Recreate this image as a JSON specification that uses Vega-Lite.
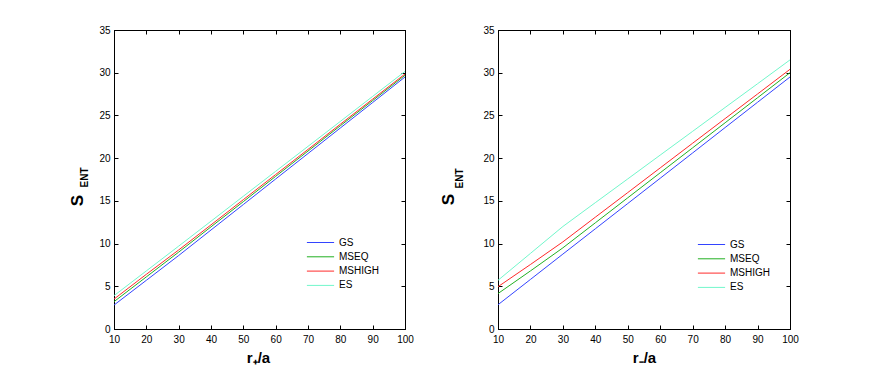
{
  "$schema": "https://vega.github.io/schema/vega-lite/v6.json",
  "background": "white",
  "padding": {"left": 67, "top": 24, "right": 5, "bottom": 5},
  "spacing": 93,
  "bounds": "flush",
  "resolve": {"scale": {"color": "independent"}},
  "config": {
    "font": "Liberation Sans",
    "view": {"stroke": "#000", "strokeWidth": 1},
    "axis": {
      "grid": false,
      "labelFont": "Liberation Sans",
      "labelFontSize": 10,
      "labelColor": "#000",
      "labelFlush": false,
      "tickColor": "#000",
      "domainColor": "#000",
      "tickSize": -4,
      "labelPadding": 8,
      "titleFont": "Liberation Sans",
      "titleColor": "#000"
    },
    "axisBottom": {"labelPadding": 9},
    "legend": {
      "orient": "none",
      "title": null,
      "labelFont": "Liberation Sans",
      "labelFontSize": 10,
      "labelColor": "#000",
      "symbolType": "M-1.7,0H1.7",
      "symbolSize": 256,
      "symbolStrokeWidth": 1,
      "labelOffset": 10,
      "rowPadding": 0.3,
      "padding": 0
    }
  },
  "datasets": {
    "left": [
      {"x": 10, "series": "GS", "y": 2.8}, {"x": 20, "series": "GS", "y": 5.7}, {"x": 30, "series": "GS", "y": 8.6}, {"x": 40, "series": "GS", "y": 11.59}, {"x": 50, "series": "GS", "y": 14.57}, {"x": 60, "series": "GS", "y": 17.56}, {"x": 70, "series": "GS", "y": 20.54}, {"x": 80, "series": "GS", "y": 23.53}, {"x": 90, "series": "GS", "y": 26.51}, {"x": 100, "series": "GS", "y": 29.5},
      {"x": 10, "series": "MSEQ", "y": 3.2}, {"x": 20, "series": "MSEQ", "y": 6.1}, {"x": 30, "series": "MSEQ", "y": 9.0}, {"x": 40, "series": "MSEQ", "y": 11.96}, {"x": 50, "series": "MSEQ", "y": 14.91}, {"x": 60, "series": "MSEQ", "y": 17.87}, {"x": 70, "series": "MSEQ", "y": 20.83}, {"x": 80, "series": "MSEQ", "y": 23.79}, {"x": 90, "series": "MSEQ", "y": 26.74}, {"x": 100, "series": "MSEQ", "y": 29.7},
      {"x": 10, "series": "MSHIGH", "y": 3.5}, {"x": 20, "series": "MSHIGH", "y": 6.4}, {"x": 30, "series": "MSHIGH", "y": 9.25}, {"x": 40, "series": "MSHIGH", "y": 12.19}, {"x": 50, "series": "MSHIGH", "y": 15.14}, {"x": 60, "series": "MSHIGH", "y": 18.08}, {"x": 70, "series": "MSHIGH", "y": 21.02}, {"x": 80, "series": "MSHIGH", "y": 23.97}, {"x": 90, "series": "MSHIGH", "y": 26.91}, {"x": 100, "series": "MSHIGH", "y": 29.85},
      {"x": 10, "series": "ES", "y": 3.9}, {"x": 20, "series": "ES", "y": 6.8}, {"x": 30, "series": "ES", "y": 9.7}, {"x": 40, "series": "ES", "y": 12.62}, {"x": 50, "series": "ES", "y": 15.54}, {"x": 60, "series": "ES", "y": 18.46}, {"x": 70, "series": "ES", "y": 21.38}, {"x": 80, "series": "ES", "y": 24.3}, {"x": 90, "series": "ES", "y": 27.23}, {"x": 100, "series": "ES", "y": 30.15}
    ],
    "right": [
      {"x": 10, "series": "GS", "y": 2.84}, {"x": 20, "series": "GS", "y": 5.8}, {"x": 30, "series": "GS", "y": 8.77}, {"x": 40, "series": "GS", "y": 11.73}, {"x": 50, "series": "GS", "y": 14.69}, {"x": 60, "series": "GS", "y": 17.65}, {"x": 70, "series": "GS", "y": 20.61}, {"x": 80, "series": "GS", "y": 23.58}, {"x": 90, "series": "GS", "y": 26.54}, {"x": 100, "series": "GS", "y": 29.5},
      {"x": 10, "series": "MSEQ", "y": 4.15}, {"x": 20, "series": "MSEQ", "y": 6.8}, {"x": 30, "series": "MSEQ", "y": 9.5}, {"x": 40, "series": "MSEQ", "y": 12.43}, {"x": 50, "series": "MSEQ", "y": 15.36}, {"x": 60, "series": "MSEQ", "y": 18.29}, {"x": 70, "series": "MSEQ", "y": 21.21}, {"x": 80, "series": "MSEQ", "y": 24.14}, {"x": 90, "series": "MSEQ", "y": 27.07}, {"x": 100, "series": "MSEQ", "y": 30.0},
      {"x": 10, "series": "MSHIGH", "y": 4.95}, {"x": 20, "series": "MSHIGH", "y": 7.55}, {"x": 30, "series": "MSHIGH", "y": 10.2}, {"x": 40, "series": "MSHIGH", "y": 13.09}, {"x": 50, "series": "MSHIGH", "y": 15.97}, {"x": 60, "series": "MSHIGH", "y": 18.86}, {"x": 70, "series": "MSHIGH", "y": 21.75}, {"x": 80, "series": "MSHIGH", "y": 24.63}, {"x": 90, "series": "MSHIGH", "y": 27.51}, {"x": 100, "series": "MSHIGH", "y": 30.4},
      {"x": 10, "series": "ES", "y": 5.7}, {"x": 20, "series": "ES", "y": 8.85}, {"x": 30, "series": "ES", "y": 12.0}, {"x": 40, "series": "ES", "y": 14.79}, {"x": 50, "series": "ES", "y": 17.57}, {"x": 60, "series": "ES", "y": 20.36}, {"x": 70, "series": "ES", "y": 23.14}, {"x": 80, "series": "ES", "y": 25.93}, {"x": 90, "series": "ES", "y": 28.71}, {"x": 100, "series": "ES", "y": 31.5}
    ]
  },
  "hconcat": [
    {
      "width": 291,
      "height": 299,
      "data": {"name": "left"},
      "layer": [
        {
          "mark": {"type": "line", "strokeWidth": 1},
          "encoding": {
            "x": {"field": "x", "type": "quantitative", "scale": {"domain": [10, 100], "nice": false},
              "axis": {"orient": "bottom", "values": [10, 20, 30, 40, 50, 60, 70, 80, 90, 100], "title": "r₊/a", "titleFontSize": 15, "titleFontWeight": "bold", "titleX": 144, "titleY": 33, "titleAlign": "center", "titleBaseline": "alphabetic"}},
            "y": {"field": "y", "type": "quantitative", "scale": {"domain": [0, 35], "nice": false},
              "axis": {"orient": "left", "values": [0, 5, 10, 15, 20, 25, 30, 35], "title": "S", "titleFontSize": 17, "titleFontWeight": "bold", "titleAngle": 270, "titleX": -32, "titleY": 170, "titleAlign": "center", "titleBaseline": "alphabetic"}},
            "color": {"field": "series", "type": "nominal",
              "scale": {"domain": ["GS", "MSEQ", "MSHIGH", "ES"], "range": ["#3344ff", "#22b022", "#ff2a2a", "#72f7cb"]},
              "legend": {"legendX": 198, "legendY": 204}}
          }
        },
        {
          "mark": {"type": "line", "opacity": 0},
          "encoding": {
            "x": {"field": "x", "type": "quantitative", "scale": {"domain": [10, 100], "nice": false},
              "axis": {"orient": "top", "values": [10, 20, 30, 40, 50, 60, 70, 80, 90, 100], "labels": false, "title": null}},
            "y": {"field": "y", "type": "quantitative", "scale": {"domain": [0, 35], "nice": false},
              "axis": {"orient": "right", "values": [0, 5, 10, 15, 20, 25, 30, 35], "labels": false, "title": "ENT", "titleFontSize": 10, "titleFontWeight": "bold", "titleAngle": 270, "titleX": -318, "titleY": 147, "titleAlign": "center", "titleBaseline": "alphabetic"}},
            "detail": {"field": "series"}
          }
        }
      ],
      "resolve": {"axis": {"x": "independent", "y": "independent"}}
    },
    {
      "width": 292,
      "height": 299,
      "data": {"name": "right"},
      "layer": [
        {
          "mark": {"type": "line", "strokeWidth": 1},
          "encoding": {
            "x": {"field": "x", "type": "quantitative", "scale": {"domain": [10, 100], "nice": false},
              "axis": {"orient": "bottom", "values": [10, 20, 30, 40, 50, 60, 70, 80, 90, 100], "title": "r₋/a", "titleFontSize": 15, "titleFontWeight": "bold", "titleX": 146, "titleY": 33, "titleAlign": "center", "titleBaseline": "alphabetic"}},
            "y": {"field": "y", "type": "quantitative", "scale": {"domain": [0, 35], "nice": false},
              "axis": {"orient": "left", "values": [0, 5, 10, 15, 20, 25, 30, 35], "title": "S", "titleFontSize": 17, "titleFontWeight": "bold", "titleAngle": 270, "titleX": -45, "titleY": 169, "titleAlign": "center", "titleBaseline": "alphabetic"}},
            "color": {"field": "series", "type": "nominal",
              "scale": {"domain": ["GS", "MSEQ", "MSHIGH", "ES"], "range": ["#3344ff", "#22b022", "#ff2a2a", "#72f7cb"]},
              "legend": {"legendX": 205, "legendY": 206}}
          }
        },
        {
          "mark": {"type": "line", "opacity": 0},
          "encoding": {
            "x": {"field": "x", "type": "quantitative", "scale": {"domain": [10, 100], "nice": false},
              "axis": {"orient": "top", "values": [10, 20, 30, 40, 50, 60, 70, 80, 90, 100], "labels": false, "title": null}},
            "y": {"field": "y", "type": "quantitative", "scale": {"domain": [0, 35], "nice": false},
              "axis": {"orient": "right", "values": [0, 5, 10, 15, 20, 25, 30, 35], "labels": false, "title": "ENT", "titleFontSize": 10, "titleFontWeight": "bold", "titleAngle": 270, "titleX": -328, "titleY": 148, "titleAlign": "center", "titleBaseline": "alphabetic"}},
            "detail": {"field": "series"}
          }
        }
      ],
      "resolve": {"axis": {"x": "independent", "y": "independent"}}
    }
  ]
}
